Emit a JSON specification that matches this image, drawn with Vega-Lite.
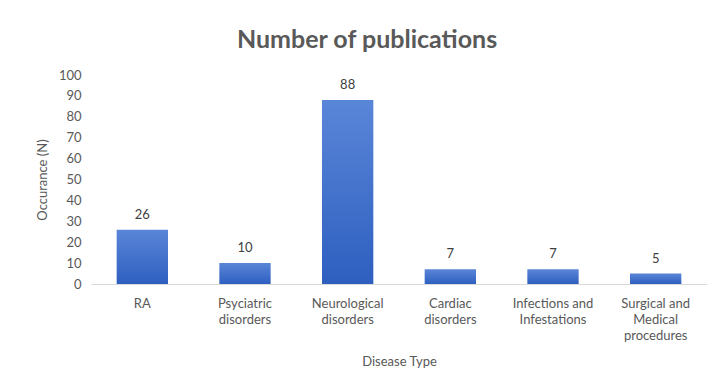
{
  "$schema": "https://vega.github.io/schema/vega-lite/v6.json",
  "autosize": "none",
  "width": 616,
  "height": 209,
  "padding": {"left": 91, "top": 75, "right": 0, "bottom": 105},
  "background": "white",
  "config": {"view": {"stroke": null}, "font": "Lato"},
  "title": {
    "text": "Number of publications",
    "fontSize": 25,
    "fontWeight": "bold",
    "color": "#595959",
    "font": "Lato",
    "anchor": "middle",
    "dx": -32,
    "offset": 16
  },
  "data": {
    "values": [
      {"disease": "RA", "n": 26},
      {"disease": "Psyciatric disorders", "n": 10},
      {"disease": "Neurological disorders", "n": 88},
      {"disease": "Cardiac disorders", "n": 7},
      {"disease": "Infections and Infestations", "n": 7},
      {"disease": "Surgical and Medical procedures", "n": 5}
    ]
  },
  "encoding": {
    "x": {
      "field": "disease",
      "type": "nominal",
      "sort": null,
      "scale": {"paddingInner": 0.5, "paddingOuter": 0.25},
      "axis": {
        "title": "Disease Type",
        "titleFontSize": 13,
        "titleFontWeight": "normal",
        "titleColor": "#595959",
        "titlePadding": 13,
        "labelAngle": 0,
        "labelFontSize": 13,
        "labelColor": "#595959",
        "labelPadding": 13,
        "labelLineHeight": 16,
        "labelLimit": 200,
        "ticks": false,
        "domainColor": "#d9d9d9",
        "domainWidth": 1,
        "labelExpr": "datum.value == 'Psyciatric disorders' ? ['Psyciatric','disorders'] : datum.value == 'Neurological disorders' ? ['Neurological','disorders'] : datum.value == 'Cardiac disorders' ? ['Cardiac','disorders'] : datum.value == 'Infections and Infestations' ? ['Infections and','Infestations'] : datum.value == 'Surgical and Medical procedures' ? ['Surgical and','Medical','procedures'] : datum.value"
      }
    },
    "y": {
      "field": "n",
      "type": "quantitative",
      "scale": {"domain": [0, 100]},
      "axis": {
        "title": "Occurance (N)",
        "titleFontSize": 13,
        "titleFontWeight": "normal",
        "titleColor": "#595959",
        "titlePadding": 9,
        "values": [0, 10, 20, 30, 40, 50, 60, 70, 80, 90, 100],
        "labelFontSize": 13,
        "labelColor": "#595959",
        "labelPadding": 10,
        "ticks": false,
        "domain": false,
        "grid": false
      }
    }
  },
  "layer": [
    {
      "mark": {
        "type": "bar",
        "color": {
          "gradient": "linear",
          "x1": 0, "y1": 0, "x2": 0, "y2": 1,
          "stops": [
            {"offset": 0, "color": "#5a86d8"},
            {"offset": 1, "color": "#2e5fc0"}
          ]
        }
      }
    },
    {
      "mark": {"type": "text", "dy": -15, "fontSize": 13, "color": "#404040"},
      "encoding": {"text": {"field": "n", "type": "quantitative"}}
    }
  ]
}
